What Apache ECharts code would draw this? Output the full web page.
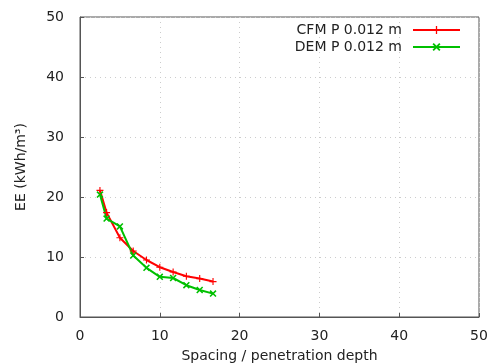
<!DOCTYPE html>
<html><head><meta charset="utf-8">
<script src="https://cdn.jsdelivr.net/npm/echarts@6/dist/echarts.min.js"></script>
<style>html,body{margin:0;padding:0;background:#fff}#c{width:491px;height:364px}</style>
</head><body><div id="c"></div>
<script>
const xValues = [2.5, 3.33, 5, 6.67, 8.33, 10, 11.67, 13.33, 15, 16.67];
const cfmValues = [21.1, 17.4, 13.2, 11.0, 9.5, 8.3, 7.5, 6.8, 6.4, 5.9];
const demValues = [20.4, 16.4, 15.1, 10.25, 8.2, 6.7, 6.5, 5.3, 4.5, 3.9];
const seriesNames = ['CFM P 0.012 m', 'DEM P 0.012 m'];
const xTitle = 'Spacing / penetration depth';
const yTitle = 'EE (kWh/m³)';

const plusPath = 'path://M0,4.2L10,4.2L10,5.8L0,5.8Z M4.2,0L5.8,0L5.8,10L4.2,10Z';
const crossPath = 'path://M0,1.6L1.6,0L10,8.4L8.4,10Z M8.4,0L10,1.6L1.6,10L0,8.4Z';
const font = 'DejaVu Sans';
const chart = echarts.init(document.getElementById('c'));
const mk = (vals) => xValues.map((x, i) => [x, vals[i]]);
const axisCommon = {
  min: 0, max: 50, interval: 10,
  axisLine: { show: true, lineStyle: { color: '#555', width: 1 } },
  axisTick: { show: true, inside: true, length: 4, lineStyle: { color: '#555' } },
  axisLabel: { color: '#222', fontSize: 14, fontFamily: font },
  splitLine: { show: true, lineStyle: { color: '#ccc', type: [1, 4], width: 1 } },
  nameTextStyle: { color: '#222', fontSize: 14, fontFamily: font }
};
chart.setOption({
  animation: false,
  grid: { left: 80, right: 12, top: 17, bottom: 47, show: true, borderColor: '#555', borderWidth: 1,
          containLabel: false, outerBoundsMode: 'none' },
  legend: {
    right: 25, top: 18, orient: 'vertical', align: 'right',
    itemWidth: 47, itemHeight: 10, itemGap: 3,
    textStyle: { color: '#222', fontSize: 14, fontFamily: font, padding: [0, 6, 0, 0] },
    data: seriesNames
  },
  xAxis: Object.assign({}, axisCommon, {
    type: 'value', name: xTitle, nameLocation: 'middle', nameGap: 32,
    axisLabel: Object.assign({}, axisCommon.axisLabel, { margin: 12 })
  }),
  yAxis: Object.assign({}, axisCommon, {
    type: 'value', name: yTitle, nameLocation: 'middle', nameGap: 52,
    axisLabel: Object.assign({}, axisCommon.axisLabel, { margin: 16 })
  }),
  series: [
    { name: seriesNames[0], type: 'line', data: mk(cfmValues), symbol: plusPath, symbolSize: 7,
      lineStyle: { color: '#ff0000', width: 2 }, itemStyle: { color: '#ff0000' } },
    { name: seriesNames[1], type: 'line', data: mk(demValues), symbol: crossPath, symbolSize: 7,
      lineStyle: { color: '#00c000', width: 2 }, itemStyle: { color: '#00c000' } }
  ]
});
</script></body></html>
